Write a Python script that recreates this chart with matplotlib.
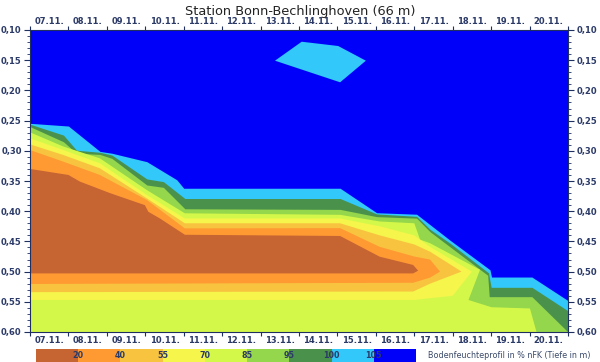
import matplotlib
matplotlib.use("Agg")
import matplotlib.pyplot as plt
import numpy as np

# ---------------- data ----------------
title = "Station Bonn-Bechlinghoven (66 m)"
day_labels = ["07.11.", "08.11.", "09.11.", "10.11.", "11.11.", "12.11.", "13.11.",
              "14.11.", "15.11.", "16.11.", "17.11.", "18.11.", "19.11.", "20.11."]
depth_ticks = [0.10, 0.15, 0.20, 0.25, 0.30, 0.35, 0.40, 0.45, 0.50, 0.55, 0.60]
class_labels = ["20", "40", "55", "70", "85", "95", "100", "105"]
class_colors = ["#C66432", "#FF9A32", "#F8C440", "#F5F54B", "#D4F84A",
                "#94D64C", "#4A914C", "#32C8FA", "#0000FA"]
legend_text = "Bodenfeuchteprofil in % nFK (Tiefe in m)"

# boundary blue | light blue (105)
b1_day = [0, 1.0, 1.82, 2.13, 3.04, 3.82, 4.0, 8.07, 9.02, 10.06, 10.93, 11.97, 12.01, 13.06, 14]
b1_dep = [0.2545, 0.259, 0.301, 0.304, 0.318, 0.348, 0.362, 0.362, 0.4025, 0.405, 0.448, 0.497, 0.509, 0.509, 0.548]
# boundary light blue | dark green (100)
b2_day = [0, 0.87, 1.21, 1.82, 2.13, 3.04, 3.47, 4.03, 8.07, 9.02, 10.06, 10.41, 10.93, 11.93, 12.0, 13.06, 14]
b2_dep = [0.256, 0.274, 0.299, 0.3025, 0.307, 0.3466, 0.351, 0.379, 0.379, 0.4045, 0.4085, 0.43, 0.453, 0.502, 0.526, 0.526, 0.565]
# boundary dark green | light green (95)
b3_day = [0, 0.87, 1.21, 1.82, 2.13, 3.04, 3.47, 4.03, 8.07, 9.02, 10.06, 10.41, 10.93, 11.91, 11.95, 13.06, 14]
b3_dep = [0.260, 0.285, 0.304, 0.306, 0.3125, 0.3566, 0.3605, 0.396, 0.397, 0.409, 0.4115, 0.434, 0.459, 0.506, 0.5415, 0.5415, 0.60]
# region yellow-green (70-85): upper edge then right edge
yg_day = [0, 0.87, 1.82, 3.04, 4.03, 8.07, 9.1, 10.0, 10.15, 10.41, 11.71, 11.41, 12.01, 13.01, 13.18]
yg_dep = [0.2694, 0.293, 0.3125, 0.365, 0.4035, 0.406, 0.417, 0.42, 0.447, 0.453, 0.497, 0.547, 0.559, 0.561, 0.60]
# yellow tongue (55-70): top edge, bottom edge
ye_top_day = [0, 0.87, 1.82, 3.04, 4.03, 8.07, 9.1, 10.0, 10.41, 11.5]
ye_top_dep = [0.2794, 0.2987, 0.3207, 0.373, 0.412, 0.412, 0.425, 0.44, 0.459, 0.50]
ye_bot_day = [0, 10.0, 10.41, 11.0, 11.5]
ye_bot_dep = [0.547, 0.547, 0.544, 0.54, 0.50]
# light orange tongue (40-55)
lo_top_day = [0, 0.87, 1.82, 3.04, 4.03, 8.07, 9.1, 10.0, 10.41, 11.23]
lo_top_dep = [0.2893, 0.307, 0.329, 0.3787, 0.420, 0.420, 0.44, 0.455, 0.467, 0.50]
lo_bot_day = [0, 9.97, 10.41, 11.23]
lo_bot_dep = [0.534, 0.533, 0.52, 0.50]
# orange tongue (20-40)
or_top_day = [0, 0.87, 1.82, 3.04, 4.03, 8.07, 9.1, 10.0, 10.41, 10.67]
or_top_dep = [0.2987, 0.318, 0.340, 0.3814, 0.4284, 0.428, 0.459, 0.475, 0.48, 0.50]
or_bot_day = [0, 9.97, 10.41, 10.67]
or_bot_dep = [0.5205, 0.5185, 0.51, 0.50]
# brown core (< 20)
br_top_day = [0, 1.0, 1.3, 2.08, 2.99, 3.08, 3.38, 4.03, 8.07, 9.1, 9.97, 10.1]
br_top_dep = [0.330, 0.340, 0.351, 0.370, 0.390, 0.401, 0.412, 0.439, 0.441, 0.4753, 0.489, 0.4985]
br_bot_day = [0, 9.97, 10.1]
br_bot_dep = [0.503, 0.503, 0.4985]
# light blue patch near the surface
bub_day = [6.375, 7.07, 8.02, 8.74, 8.07]
bub_dep = [0.1508, 0.1194, 0.1265, 0.1508, 0.1866]

# ---------------- figure ----------------
W, H = 600, 362
fig = plt.figure(figsize=(W / 100, H / 100), dpi=100)
ax = fig.add_axes([30 / W, 1 - 332 / H, 538 / W, 302 / H])

navy = "#1F2F5F"
lab_col = "#2B3A67"
bottom = 0.60

ax.set_facecolor(class_colors[8])
ax.fill_between(b1_day, b1_dep, bottom, color=class_colors[7], lw=0)
ax.fill_between(b2_day, b2_dep, bottom, color=class_colors[6], lw=0)
ax.fill_between(b3_day, b3_dep, bottom, color=class_colors[5], lw=0)
ax.fill(list(yg_day) + [0], list(yg_dep) + [bottom], color=class_colors[4], lw=0)


def tongue(td, tv, bd, bv, col):
    xs = list(td) + list(bd)[::-1]
    ys = list(tv) + list(bv)[::-1]
    ax.fill(xs, ys, color=col, lw=0)


tongue(ye_top_day, ye_top_dep, ye_bot_day, ye_bot_dep, class_colors[3])
tongue(lo_top_day, lo_top_dep, lo_bot_day, lo_bot_dep, class_colors[2])
tongue(or_top_day, or_top_dep, or_bot_day, or_bot_dep, class_colors[1])
tongue(br_top_day, br_top_dep, br_bot_day, br_bot_dep, class_colors[0])
ax.fill(bub_day, bub_dep, color=class_colors[7], lw=0)

ax.set_xlim(0, len(day_labels))
ax.set_ylim(0.60, 0.10)

# x ticks: day boundaries (marks), day centres (labels)
ax.set_xticks(np.arange(len(day_labels) + 1))
ax.set_xticklabels([])
ax.set_xticks(np.arange(len(day_labels)) + 0.5, minor=True)
ax.set_xticklabels(day_labels, minor=True)
ax.tick_params(axis="x", which="major", top=True, bottom=True, direction="out",
               length=3, width=0.8, color=navy)
ax.tick_params(axis="x", which="minor", top=True, bottom=True, labeltop=True,
               labelbottom=True, length=0, pad=3, labelsize=6, labelcolor=lab_col)

# y ticks
ax.set_yticks(depth_ticks)
ax.set_yticklabels([f"{v:.2f}".replace(".", ",") for v in depth_ticks])
ax.set_yticks(np.arange(0.10, 0.6001, 0.01), minor=True)
ax.tick_params(axis="y", which="major", left=True, right=True, labelleft=True,
               labelright=True, direction="out", length=4, width=0.8, color=navy,
               labelsize=6, labelcolor=lab_col, pad=2)
ax.tick_params(axis="y", which="minor", left=True, right=True, direction="out",
               length=2, width=0.6, color=navy)
for lab in ax.get_xticklabels(minor=True) + ax.get_yticklabels():
    lab.set_fontweight("bold")
for sp in ax.spines.values():
    sp.set_color(navy)
    sp.set_linewidth(0.8)

fig.text(0.5, 1 - 11 / H, title, ha="center", va="center", fontsize=9.3, color="#222222")

# colour legend
cax = fig.add_axes([36 / W, 0, 380 / W, 13 / H])
for i, c in enumerate(class_colors):
    cax.axvspan(i, i + 1, color=c, lw=0)
for i, t in enumerate(class_labels):
    cax.text(i + 1, 0.5, t, ha="center", va="center", fontsize=5.8, color=lab_col,
             fontweight="bold")
cax.set_xlim(0, len(class_colors))
cax.set_ylim(0, 1)
cax.axis("off")
fig.text(428 / W, 1 - 355 / H, legend_text, ha="left", va="center", fontsize=5.8,
         color="#3A4A6A")

fig.savefig("out.png", dpi=100)
